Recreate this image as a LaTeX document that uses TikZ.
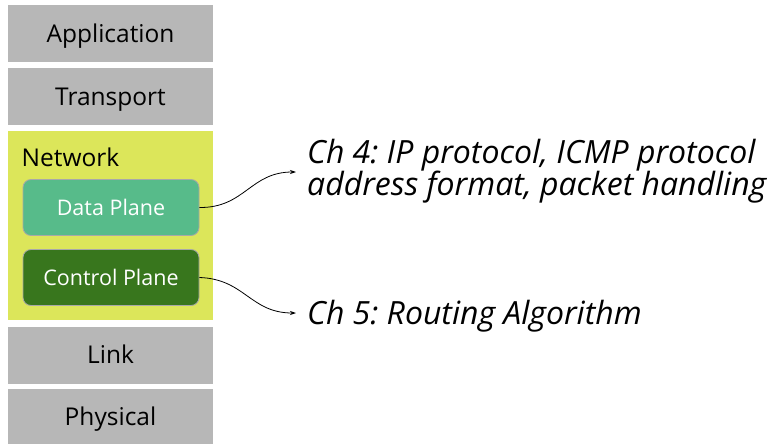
\documentclass[tikz,border=0pt]{standalone}
\usepackage{fontspec}
\setmainfont{Open Sans}
\usetikzlibrary{arrows.meta}
\definecolor{layergray}{HTML}{B7B7B7}
\definecolor{netyellow}{HTML}{DCE65A}
\definecolor{datagreen}{HTML}{57BB8A}
\definecolor{ctrlgreen}{HTML}{38761D}
\definecolor{edgegray}{HTML}{A8A8A8}
\begin{document}
\begin{tikzpicture}[x=1pt,y=-1pt,
  layer/.style={fill=layergray, draw=none, minimum width=205pt, minimum height=57pt, inner sep=0pt, text height=17.5pt, text depth=0pt, font=\fontsize{24.5}{28}\selectfont},
  plane/.style={rounded corners=8pt, draw=edgegray, line width=0.8pt, minimum width=176pt, minimum height=56pt, inner sep=0pt, text=white, text height=15.35pt, text depth=0pt, font=\fontsize{21.5}{24}\selectfont},
  note/.style={anchor=base west, inner sep=0pt, font=\fontsize{32}{34}\selectfont\itshape\frenchspacing},
  conn/.style={-{Stealth[length=6pt,width=4pt]}, line width=0.8pt}]
\useasboundingbox (0,0) rectangle (771,444);
\node[layer] (app) at (110.5,33.5) {Application};
\node[layer] (tra) at (110.5,96.5) {Transport};
\node[fill=netyellow, minimum width=205pt, minimum height=189pt, inner sep=0pt] (net) at (110.5,225.5) {};
\node[anchor=base west, inner sep=0pt, font=\fontsize{24.5}{28}\selectfont] (netlbl) at (21.5,166.5) {Network};
\node[plane, fill=datagreen] (data) at (111,207.5) {Data Plane};
\node[plane, fill=ctrlgreen] (ctrl) at (111,277.5) {Control Plane};
\node[layer] (link) at (110.5,355) {Link};
\node[layer, minimum height=56pt] (phy) at (110.5,417) {Physical};
\node[note] (ch4a) at (307,163.5) {Ch 4: IP protocol, ICMP protocol};
\node[note] (ch4b) at (307,195.5) {address format, packet handling};
\node[note] (ch5) at (307,324.5) {Ch 5: Routing Algorithm};
\coordinate (a1) at (296,172);
\coordinate (a2) at (296,313);
\draw[conn] (data.east) .. controls (245,208) and (250,172) .. (a1);
\draw[conn] (ctrl.east) .. controls (245,279) and (250,313) .. (a2);
\end{tikzpicture}
\end{document}
